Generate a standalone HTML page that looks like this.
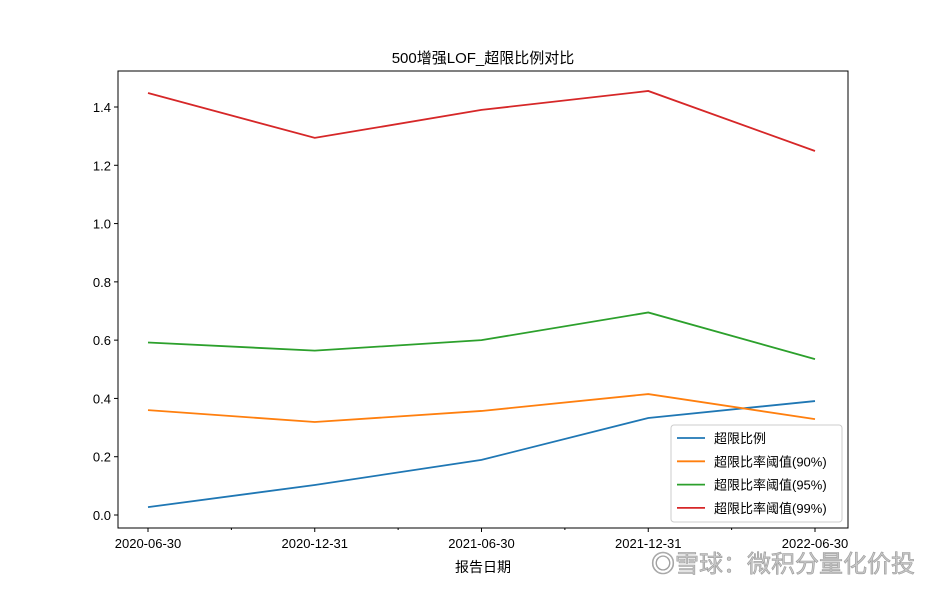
<!DOCTYPE html>
<html><head><meta charset="utf-8"><style>
body{margin:0;background:#fff;}
svg text{font-family:"Liberation Sans","Noto Sans CJK SC",sans-serif;}
</style></head><body>
<svg id="chart" width="942" height="592" xmlns="http://www.w3.org/2000/svg">
<rect width="942" height="592" fill="#fff"/>
<text x="483" y="63" font-size="15" text-anchor="middle">500增强LOF_超限比例对比</text>
<g id="plot"></g>
<text x="483" y="572" font-size="14" text-anchor="middle">报告日期</text>
<text x="915" y="572" font-size="24" text-anchor="end" fill="#c8c8c8" stroke="#999" stroke-width="0.6">◎雪球：微积分量化价投</text>
</svg>
<script>
const categories=["2020-06-30","2020-12-31","2021-06-30","2021-12-31","2022-06-30"];
const yTicks=[0.0,0.2,0.4,0.6,0.8,1.0,1.2,1.4];
const seriesNames=["超限比例","超限比率阈值(90%)","超限比率阈值(95%)","超限比率阈值(99%)"];
const seriesColors=["#1f77b4","#ff7f0e","#2ca02c","#d62728"];
const s0=[0.027,0.103,0.189,0.333,0.391];
const s1=[0.360,0.319,0.357,0.415,0.329];
const s2=[0.592,0.564,0.600,0.695,0.535];
const s3=[1.448,1.294,1.390,1.455,1.249];
const series=[s0,s1,s2,s3];
const L=118,R=848,T=71,B=528;
const x=i=>148+i*(815-148)/(categories.length-1);
const y=v=>515-v*(515-107)/1.4;
const g=document.getElementById('plot');
const NS="http://www.w3.org/2000/svg";
function mk(t,a){const e=document.createElementNS(NS,t);for(const k in a)e.setAttribute(k,a[k]);g.appendChild(e);return e;}
const frame=mk('rect',{x:L,y:T,width:R-L,height:B-T,fill:'none',stroke:'#000','stroke-width':1});


yTicks.forEach(v=>{
 const t=mk('line',{x1:L-4,x2:L,y1:y(v),y2:y(v),stroke:'#000'});
 
 
 const l=mk('text',{x:L-7,y:y(v)+5,'font-size':13,'text-anchor':'end'});
 l.textContent=v.toFixed(1);
 
 
});
categories.forEach((c,i)=>{
 const t=mk('line',{x1:x(i),x2:x(i),y1:B,y2:B+4,stroke:'#000'});
 
 
 if(i<categories.length-1){
  const m=mk('line',{x1:(x(i)+x(i+1))/2,x2:(x(i)+x(i+1))/2,y1:B,y2:B+2,stroke:'#000'});
  
  
 }
 const l=mk('text',{x:x(i),y:B+20,'font-size':13,'text-anchor':'middle'});
 l.textContent=c;
 
 
});
series.forEach((s,k)=>{
 const p=mk('polyline',{points:s.map((v,i)=>x(i)+','+y(v)).join(' '),fill:'none',stroke:seriesColors[k],'stroke-width':1.8});
 
 
});
const lg=mk('rect',{x:671,y:425,width:171,height:97,fill:'#fff','fill-opacity':0.85,stroke:'#ccc',rx:3});


seriesNames.forEach((n,k)=>{
 const yy=438+k*23.3;
 const ln=mk('line',{x1:677,x2:705,y1:yy,y2:yy,stroke:seriesColors[k],'stroke-width':1.8});
 
 
 const t=mk('text',{x:714,y:yy+5,'font-size':13});
 t.textContent=n;
 
 
});
</script>
</body></html>
